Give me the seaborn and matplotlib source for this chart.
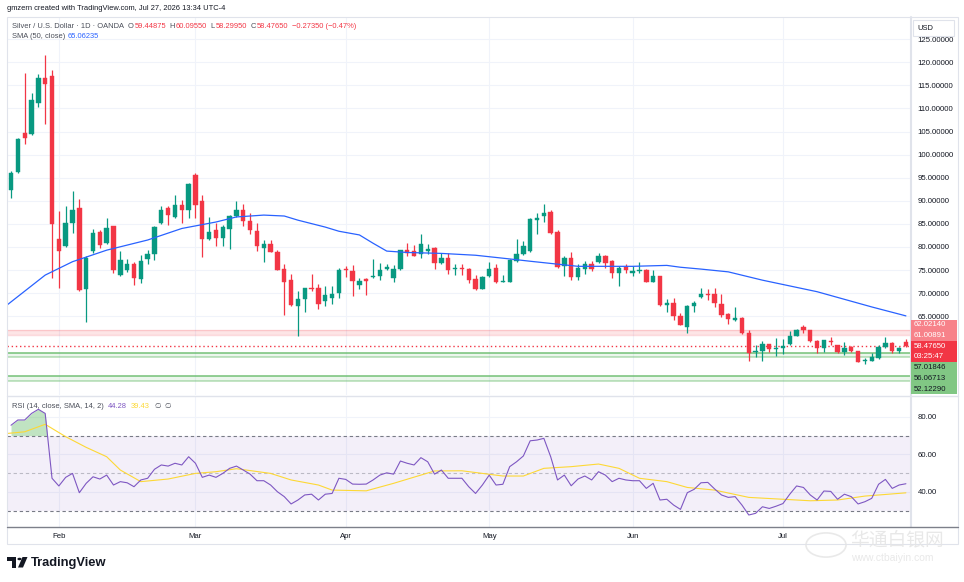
import numpy as np
import pandas as pd
import matplotlib
matplotlib.use("Agg")
import matplotlib.pyplot as plt
import seaborn as sns
from matplotlib.offsetbox import TextArea, HPacker, AnchoredOffsetbox
from matplotlib.patches import Rectangle, Circle, Polygon
from matplotlib.lines import Line2D

# Daily OHLC, Silver / USD (OANDA), Jan 22 - Jul 27 (trading days)
opens = [92.3, 96.3, 104.6, 104.5, 111.1, 116.6, 117.0, 81.7, 80.3, 85.1,
         88.5, 70.9, 79.2, 83.2, 80.8, 84.5, 73.9, 75.0, 76.3, 73.0,
         77.4, 78.5, 85.1, 88.5, 86.5, 89.1, 87.9, 95.6, 89.9, 81.8,
         83.6, 82.0, 83.9, 86.7, 88.1, 85.6, 83.4, 79.8, 80.7, 78.8,
         75.2, 72.9, 67.1, 68.7, 71.2, 71.2, 68.3, 69.0, 70.1, 75.2,
         74.8, 71.7, 73.1, 73.4, 73.8, 75.2, 73.3, 75.2, 79.4, 79.1,
         78.4, 79.2, 79.8, 76.6, 77.5, 75.2, 75.4, 75.3, 73.0, 70.9,
         73.8, 75.5, 72.5, 72.4, 77.0, 78.4, 79.1, 85.8, 86.7, 87.5,
         83.2, 75.8, 77.5, 73.5, 75.3, 76.3, 76.8, 78.0, 77.0, 74.4,
         75.7, 74.3, 74.7, 75.0, 72.4, 73.7, 67.5, 67.9, 65.1, 62.6,
         67.1, 69.2, 69.7, 69.7, 67.7, 65.4, 64.2, 64.7, 61.4, 57.3,
         57.4, 58.9, 57.9, 58.1, 58.9, 60.7, 62.6, 61.9, 59.6, 58.0,
         59.7, 58.7, 57.3, 58.3, 57.5, 55.3, 55.3, 55.9, 58.3, 59.2,
         57.4, 59.44875]
highs = [96.4, 103.5, 117.6, 113.4, 117.5, 121.6, 118.3, 87.8, 88.9, 92.1,
         90.3, 78.0, 83.9, 83.6, 86.2, 84.6, 79.1, 77.3, 76.8, 78.2,
         79.3, 84.6, 88.8, 88.8, 91.2, 90.2, 93.9, 96.1, 91.2, 86.5,
         85.2, 84.8, 86.9, 89.9, 89.2, 87.4, 85.2, 81.5, 81.6, 79.3,
         76.4, 74.1, 70.4, 71.1, 74.1, 71.9, 71.5, 71.5, 75.4, 75.9,
         76.1, 73.2, 73.2, 77.4, 76.6, 76.4, 76.1, 79.4, 80.9, 80.5,
         82.9, 80.6, 80.0, 78.6, 78.6, 76.4, 76.4, 75.4, 73.9, 73.6,
         76.8, 76.2, 73.9, 77.4, 81.8, 81.3, 86.2, 87.3, 89.3, 88.1,
         83.6, 78.0, 78.9, 76.2, 76.9, 76.9, 78.7, 78.2, 77.1, 75.8,
         76.4, 75.9, 76.8, 75.2, 75.0, 73.8, 68.7, 69.0, 65.6, 67.4,
         68.3, 71.0, 70.9, 71.2, 69.7, 65.6, 67.0, 64.9, 62.1, 58.7,
         59.6, 59.0, 60.2, 60.0, 61.8, 62.3, 63.1, 62.0, 59.8, 59.9,
         60.5, 58.7, 59.3, 58.5, 57.5, 56.0, 57.0, 58.8, 60.5, 59.4,
         58.4, 60.0955]
lows = [90.7, 96.0, 102.4, 104.3, 110.4, 106.6, 73.2, 71.2, 80.0, 83.1,
        70.4, 63.8, 78.6, 79.7, 80.6, 74.3, 73.7, 74.6, 71.7, 72.2,
        76.3, 77.1, 84.9, 84.7, 86.3, 85.1, 86.3, 86.3, 77.9, 81.6,
        80.2, 80.1, 79.5, 86.5, 84.5, 82.8, 79.2, 76.8, 78.8, 74.9,
        65.2, 67.3, 60.7, 65.9, 70.5, 66.5, 67.3, 67.6, 69.0, 73.4,
        69.3, 70.9, 69.5, 73.2, 72.8, 75.0, 72.4, 75.1, 78.0, 78.0,
        77.7, 78.5, 75.2, 76.4, 74.1, 73.9, 73.9, 72.2, 70.7, 70.8,
        73.4, 72.1, 72.3, 72.3, 76.8, 78.3, 78.9, 82.9, 85.4, 82.8,
        75.4, 73.7, 72.8, 72.8, 74.2, 74.7, 76.6, 75.4, 73.3, 71.6,
        74.4, 73.8, 74.4, 72.3, 72.3, 67.3, 65.9, 64.1, 63.0, 61.4,
        65.8, 69.0, 68.5, 67.0, 64.8, 63.2, 64.0, 61.2, 55.3, 56.1,
        55.3, 57.3, 56.3, 56.7, 58.8, 60.6, 61.3, 59.4, 57.1, 57.3,
        58.7, 57.1, 56.6, 57.2, 55.0, 54.7, 55.2, 55.7, 58.1, 57.1,
        57.1, 58.2995]
closes = [96.1, 103.3, 103.6, 111.8, 116.7, 115.4, 84.9, 79.2, 85.1, 88.0,
          70.6, 77.7, 83.1, 80.4, 84.0, 75.0, 77.1, 76.4, 73.2, 77.0,
          78.4, 84.4, 88.0, 86.9, 89.1, 88.0, 93.6, 89.1, 81.7, 83.3,
          81.9, 84.4, 86.7, 88.1, 85.6, 83.6, 80.2, 80.6, 78.9, 75.0,
          72.4, 67.4, 68.8, 71.0, 70.8, 67.6, 69.6, 69.9, 75.0, 74.9,
          72.7, 72.6, 72.6, 73.8, 75.0, 75.7, 75.2, 79.3, 78.7, 78.1,
          80.6, 79.5, 76.6, 77.5, 75.0, 75.4, 75.2, 72.8, 70.9, 73.5,
          75.2, 72.4, 72.7, 77.1, 78.4, 80.2, 86.0, 86.2, 87.4, 83.1,
          75.6, 77.5, 73.4, 75.5, 76.3, 75.2, 78.0, 76.6, 74.4, 75.5,
          75.0, 74.8, 75.0, 72.4, 73.7, 67.4, 67.9, 65.0, 63.1, 67.2,
          67.8, 69.7, 69.5, 67.8, 65.2, 64.4, 64.7, 61.3, 57.0, 57.5,
          58.9, 57.8, 58.0, 58.5, 60.7, 62.1, 61.9, 59.6, 58.0, 59.8,
          59.5, 57.3, 58.1, 57.4, 55.1, 55.6, 56.1, 58.3, 59.2, 57.4,
          58.0, 58.4765]

# SMA(50) read at a set of bars
sma_bars = [-0.6, 5, 9, 14, 20, 25, 30, 33, 37, 40, 42, 46, 48, 51, 53, 55, 58, 63,
            68, 73, 76, 83, 91, 96, 98, 101, 105, 110, 118, 126, 131]
sma_vals = [67.4, 73.9, 76.8, 79.3, 81.5, 84.0, 85.4, 86.5, 86.9, 86.7, 85.8, 84.3,
            83.4, 82.6, 80.8, 79.1, 78.8, 78.6, 78.2, 77.4, 76.9, 75.8, 75.8, 76.0,
            75.6, 75.2, 74.6, 72.8, 70.3, 67.0, 65.06235]

# RSI(14) per bar
rsi = [75.5, 78.3, 78.3, 81.8, 84.0, 81.8, 47.2, 43.1, 47.7, 49.8,
       39.5, 44.5, 48.0, 46.8, 48.9, 43.6, 45.4, 44.8, 42.7, 46.3,
       47.2, 52.0, 54.3, 53.7, 55.2, 54.3, 58.7, 55.2, 47.7, 48.9,
       47.7, 49.8, 52.5, 53.7, 51.6, 49.4, 45.9, 45.9, 43.6, 40.0,
       37.4, 33.5, 35.6, 38.3, 38.7, 35.6, 38.7, 39.1, 47.2, 46.6,
       44.1, 44.0, 44.1, 46.3, 48.9, 50.1, 49.4, 56.4, 55.2, 54.3,
       58.2, 56.0, 49.4, 51.6, 47.2, 47.2, 47.2, 42.7, 39.1, 43.6,
       48.9, 43.6, 44.0, 53.4, 56.0, 59.1, 67.2, 67.6, 68.5, 58.7,
       46.3, 48.9, 43.2, 46.8, 48.4, 46.3, 50.7, 48.9, 45.4, 47.2,
       46.3, 45.9, 45.9, 41.8, 44.5, 35.6, 36.0, 32.9, 30.6, 39.5,
       41.3, 44.8, 45.0, 41.5, 38.3, 37.0, 37.4, 32.9, 27.6, 28.5,
       32.0, 31.1, 32.3, 33.7, 38.7, 43.1, 42.3, 38.3, 35.6, 40.4,
       40.2, 36.0, 38.7, 37.4, 33.5, 34.7, 36.5, 44.0, 46.6, 41.8,
       43.6, 44.28]

# RSI smoothing line (SMA 14) read at a set of bars
rsi_sma_bars = [-0.6, 2, 5, 8, 11, 14, 16, 19, 23, 27, 30, 33, 38, 41, 45, 47, 52, 56,
                62, 66, 69, 72, 75, 78, 82, 86, 89, 92, 96, 99, 103, 108, 113, 117,
                121, 125, 131]
rsi_sma_vals = [71.1, 72.0, 76.0, 69.4, 63.7, 58.7, 51.6, 45.4, 46.8, 49.8, 50.7,
                52.3, 49.8, 46.3, 43.6, 40.9, 40.5, 44.5, 51.1, 51.2, 49.8, 48.4,
                48.4, 52.5, 53.4, 54.8, 52.5, 47.2, 45.4, 42.3, 40.9, 37.0, 36.0,
                35.2, 35.6, 37.7, 39.43]

month_names = ["Feb", "Mar", "Apr", "May", "Jun", "Jul"]
month_start_bars = [7, 27, 49, 70, 91, 113]

resistance_zone = (61.00891, 62.02140)
support_zone_1 = (56.06713, 57.01846)
support_zone_2 = (51.0, 52.12290)
countdown = "03:25:47"

UP = "#089981"
DOWN = "#F23645"
TXT = "#131722"
LEG = "#4a4e59"
GREY = "#787B86"

sns.set_style("white")
plt.rcParams['font.family'] = ['Liberation Sans', 'DejaVu Sans']

W, H = 964, 582
fig = plt.figure(figsize=(W / 100, H / 100), dpi=100)


def fx(x):
    return x / W


def fy(y):
    return 1 - y / H


ax = fig.add_axes([fx(7), fy(395), fx(910) - fx(7), fy(17) - fy(395)])
ax_rsi = fig.add_axes([fx(7), fy(527), fx(910) - fx(7), fy(396) - fy(527)], sharex=ax)

df = pd.DataFrame({"open": opens, "high": highs, "low": lows, "close": closes})
df["bar"] = np.arange(len(df))
colors = np.where(df["close"] >= df["open"], UP, DOWN)

# candles
ax.vlines(df["bar"], df["low"], df["high"], colors=colors, lw=0.9, zorder=3)
body_low = np.minimum(df["open"], df["close"])
body_h = np.maximum((df["close"] - df["open"]).abs(), 0.1)
ax.bar(df["bar"], body_h, bottom=body_low, width=0.64, color=colors,
       edgecolor=colors, lw=0.3, zorder=4)

sns.lineplot(x=sma_bars, y=sma_vals, ax=ax, color="#2962FF", linewidth=0.9,
             estimator=None, sort=False, zorder=5)

# zones
ax.axhspan(*resistance_zone, color=DOWN, alpha=0.13, lw=0, zorder=1)
for v in resistance_zone:
    ax.axhline(v, color=DOWN, alpha=0.18, lw=1.0, zorder=1)
for lo, hi in (support_zone_1, support_zone_2):
    ax.axhspan(lo, hi, color="#4CAF50", alpha=0.10, lw=0, zorder=1)
    ax.axhline(hi, color="#66BB6A", alpha=0.9, lw=1.1, zorder=1)
    ax.axhline(lo, color="#66BB6A", alpha=0.5, lw=1.1, zorder=1)
ax.axhline(closes[-1], color=DOWN, ls=(0, (1, 2)), lw=1.0, zorder=2)

ax.set_xlim(-0.59, 131.6)
ax.set_ylim(47.92, 129.82)
ax.set_yticks(np.arange(65, 126, 5))
ax.set_yticklabels([f"{v:.5f}" for v in np.arange(65, 126, 5)])
ax.yaxis.tick_right()
ax.set_xticks(month_start_bars)
ax.tick_params(axis="both", length=0, labelbottom=False, labelsize=5.6,
               labelcolor=TXT, pad=5.5)
ax.grid(True, color="#F0F3FA", lw=0.8)
ax.set_xlabel("")
ax.set_ylabel("")
for s in ax.spines.values():
    s.set_visible(False)

# RSI pane
ax_rsi.axhspan(30, 70, color="#7E57C2", alpha=0.09, lw=0, zorder=1)
for lvl, a in ((70, 1.0), (30, 1.0), (50, 0.45)):
    ax_rsi.axhline(lvl, color=GREY, ls=(0, (3, 2.5)), lw=0.8, alpha=a, zorder=2)
rsi_arr = np.array(rsi)
ax_rsi.fill_between(df["bar"], rsi_arr, 70, where=rsi_arr > 70, interpolate=True,
                    color="#4CAF50", alpha=0.35, lw=0, zorder=2)
sns.lineplot(x=df["bar"], y=rsi_arr, ax=ax_rsi, color="#7E57C2", linewidth=0.8,
             estimator=None, zorder=4)
sns.lineplot(x=rsi_sma_bars, y=rsi_sma_vals, ax=ax_rsi, color="#FDD835",
             linewidth=0.8, estimator=None, sort=False, zorder=3)
ax_rsi.set_ylim(21.2, 91.1)
ax_rsi.set_yticks([40, 60, 80])
ax_rsi.set_yticklabels(["40.00", "60.00", "80.00"])
ax_rsi.yaxis.tick_right()
ax_rsi.set_xticks(month_start_bars)
ax_rsi.set_xticklabels(month_names)
ax_rsi.tick_params(axis="both", length=0, labelsize=5.6, labelcolor=TXT, pad=5.5)
ax_rsi.tick_params(axis="x", pad=4.5)
ax_rsi.grid(True, color="#F0F3FA", lw=0.8)
ax_rsi.set_xlabel("")
ax_rsi.set_ylabel("")
for s in ax_rsi.spines.values():
    s.set_visible(False)

# frame and separators
fig.add_artist(Rectangle((fx(7), fy(544)), fx(958) - fx(7), fy(17) - fy(544),
                         fill=False, ec="#E0E3EB", lw=0.8, transform=fig.transFigure))
fig.add_artist(Line2D([fx(910.5), fx(910.5)], [fy(17), fy(527)], color="#E0E3EB",
                      lw=1.5, transform=fig.transFigure))
fig.add_artist(Line2D([fx(7), fx(958)], [fy(395.5), fy(395.5)], color="#E0E3EB",
                      lw=1.0, transform=fig.transFigure))
fig.add_artist(Line2D([fx(7), fx(958)], [fy(526.5), fy(526.5)], color="#7d808a",
                      lw=1.0, transform=fig.transFigure))

# USD box
fig.add_artist(Rectangle((fx(913), fy(36)), fx(954) - fx(913), fy(20) - fy(36),
                         fc="white", ec="#E0E3EB", lw=0.8, transform=fig.transFigure,
                         zorder=10))
fig.text(fx(917), fy(28), "USD", fontsize=5.4, color=TXT, va="center", zorder=11)

# stacked price labels on the right axis
fig.canvas.draw()
y0 = fig.transFigure.inverted().transform(ax.transData.transform((0, closes[-1])))[1]
step = 10.7 / H


def price_label(k, text, fc, tc):
    yc = y0 + k * step
    fig.add_artist(Rectangle((fx(911), yc - step / 2), fx(957) - fx(911), step,
                             fc=fc, ec="none", transform=fig.transFigure, zorder=10))
    fig.text(fx(914), yc, text, fontsize=5.6, color=tc, va="center", zorder=11)


levels = [resistance_zone[1], resistance_zone[0], support_zone_1[1],
          support_zone_1[0], support_zone_2[1]]
above = sorted([v for v in levels if v > closes[-1]])
below = sorted([v for v in levels if v < closes[-1]], reverse=True)
for k, v in enumerate(above, start=1):
    price_label(k, f"{v:.5f}", "#F7828A", "white")
price_label(0, f"{closes[-1]:.5f}", DOWN, "white")
price_label(-1, countdown, DOWN, "white")
for k, v in enumerate(below, start=2):
    price_label(-k, f"{v:.5f}", "#81C784", TXT)


def legend_row(groups, x, y, size=5.4, sep=2.0):
    packs = []
    for group in groups:
        parts = [TextArea(t, textprops=dict(color=c, fontsize=size)) for t, c in group]
        packs.append(HPacker(children=parts, align="baseline", pad=0, sep=0.8))
    row = HPacker(children=packs, align="baseline", pad=0, sep=sep)
    ab = AnchoredOffsetbox(loc="upper left", child=row, pad=0, borderpad=0,
                           frameon=False, bbox_to_anchor=(fx(x), fy(y)),
                           bbox_transform=fig.transFigure)
    fig.add_artist(ab)


o, h, l, c = opens[-1], highs[-1], lows[-1], closes[-1]
legend_row([[("Silver / U.S. Dollar · 1D · OANDA", LEG)],
            [("O", LEG), (f"{o:.5f}", DOWN)],
            [("H", LEG), (f"{h:.5f}", DOWN)],
            [("L", LEG), (f"{l:.5f}", DOWN)],
            [("C", LEG), (f"{c:.5f}", DOWN)],
            [("−0.27350 (−0.47%)", DOWN)]], 12, 23.5, sep=2.4)
legend_row([[("SMA (50, close)", LEG)], [(f"{sma_vals[-1]:.5f}", "#2962FF")]],
           12, 33.5)
legend_row([[("RSI (14, close, SMA, 14, 2)", LEG)], [(f"{rsi[-1]:.2f}", "#7E57C2")],
            [(f"{rsi_sma_vals[-1]:.2f}", "#FDD835")], [("∅", LEG)], [("∅", LEG)]],
           12, 402.5, sep=3.0)

fig.text(fx(7), fy(9), "gmzern created with TradingView.com, Jul 27, 2026 13:34 UTC-4",
         fontsize=5.4, color=TXT, va="center")

# TradingView logo
fig.add_artist(Rectangle((fx(7), fy(561)), fx(16) - fx(7), fy(557) - fy(561),
                         fc=TXT, ec="none", transform=fig.transFigure))
fig.add_artist(Rectangle((fx(12), fy(567.5)), fx(16) - fx(12), fy(557) - fy(567.5),
                         fc=TXT, ec="none", transform=fig.transFigure))
fig.add_artist(Circle((fx(19.5), fy(559)), 2.1 / W, fc=TXT, ec="none",
                      transform=fig.transFigure))
fig.add_artist(Polygon([(fx(18), fy(567.5)), (fx(22.5), fy(557)), (fx(27.5), fy(557)),
                        (fx(23), fy(567.5))], closed=True, fc=TXT, ec="none",
                       transform=fig.transFigure))
fig.text(fx(31), fy(563), "TradingView", fontsize=9.3, fontweight="bold",
         color=TXT, va="center")

# faint watermark
fig.add_artist(Circle((fx(826), fy(545)), 20 / W, fill=False, ec="#e4e4e4", lw=1.2,
                      transform=fig.transFigure, alpha=0.8))
fig.text(fx(850), fy(540), "华通白银网", fontsize=13.5, color="#e6e6e6",
         va="center", family=["Noto Sans CJK SC", "DejaVu Sans"], alpha=0.9)
fig.text(fx(851), fy(558), "www.ctbaiyin.com", fontsize=7.5, color="#e6e6e6",
         va="center", alpha=0.9)

fig.savefig("out.png", dpi=100)
